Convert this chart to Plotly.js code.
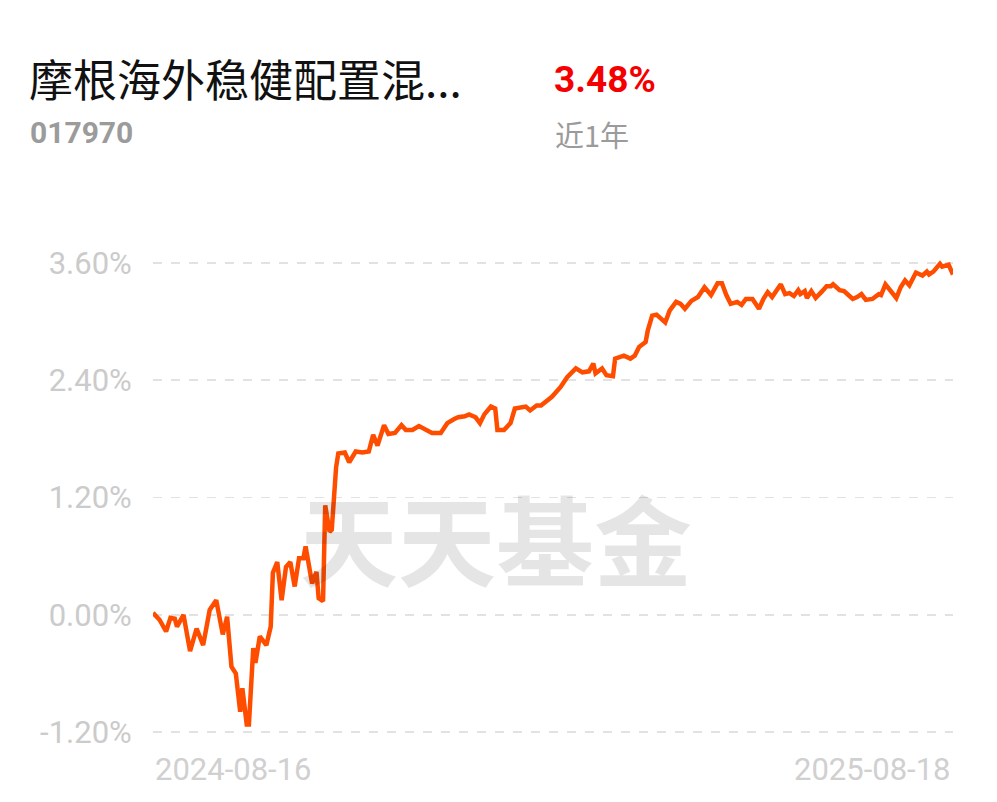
<!DOCTYPE html>
<html>
<head>
<meta charset="utf-8">
<script src="https://cdn.plot.ly/plotly-3.0.1.min.js"></script>
<style>
html,body{margin:0;padding:0;background:#fff;}
#chart{width:997px;height:802px;}
</style>
</head>
<body>
<div id="chart"></div>
<script>
// ---- data ----
var fundName = "摩根海外稳健配置混...";
var fundCode = "017970";
var periodReturn = "3.48%";
var periodLabel = "近1年";
var startDate = "2024-08-16";
var endDate = "2025-08-18";
var xTickLabels = ["2024-08-16", "2025-08-18"];
var yTickVals = [-1.2, 0, 1.2, 2.4, 3.6];
var yTickText = ["-1.20%", "0.00%", "1.20%", "2.40%", "3.60%"];

// days since start date
var dayOffsets = [0,3,6,8,10,11,14,17,20,23,26,29,32,34,36,38,40,41,43,44,46,47,49,52,54,55,57,59,61,63,65,67,69,70,73,75,76,78,79,81,82,84,85,88,90,93,96,99,101,103,106,108,111,114,116,119,122,125,128,132,135,138,140,143,145,148,150,152,155,157,158,161,164,166,168,171,173,176,178,180,183,187,190,194,197,200,202,203,206,208,211,212,216,219,221,223,226,227,229,231,233,235,237,240,242,244,247,250,253,256,259,261,263,265,268,270,272,275,278,280,282,284,288,290,292,294,296,297,299,300,302,304,307,309,311,312,315,317,319,321,323,325,327,330,333,334,336,339,341,343,345,347,350,353,355,356,358,361,362,365,367];
// cumulative return, %
var returns = [0.02,-0.05,-0.17,-0.03,-0.04,-0.12,0.00,-0.37,-0.14,-0.31,0.05,0.15,-0.20,-0.02,-0.53,-0.60,-0.99,-0.75,-1.12,-1.12,-0.34,-0.49,-0.22,-0.31,-0.12,0.43,0.54,0.15,0.49,0.54,0.29,0.58,0.58,0.70,0.32,0.44,0.17,0.14,1.12,0.85,0.87,1.51,1.65,1.66,1.56,1.67,1.66,1.67,1.84,1.73,1.94,1.85,1.86,1.94,1.89,1.89,1.93,1.89,1.86,1.86,1.96,2.00,2.02,2.03,2.05,2.02,1.96,2.05,2.13,2.11,1.89,1.89,1.96,2.11,2.12,2.13,2.09,2.14,2.14,2.18,2.23,2.33,2.43,2.52,2.48,2.49,2.57,2.47,2.52,2.45,2.44,2.62,2.65,2.62,2.65,2.74,2.79,2.91,3.06,3.07,3.03,2.99,3.11,3.20,3.18,3.13,3.21,3.25,3.35,3.27,3.39,3.39,3.27,3.18,3.20,3.17,3.23,3.23,3.13,3.23,3.30,3.25,3.38,3.28,3.29,3.26,3.32,3.28,3.31,3.24,3.31,3.24,3.31,3.36,3.36,3.38,3.32,3.31,3.27,3.23,3.25,3.28,3.22,3.23,3.28,3.27,3.38,3.30,3.24,3.35,3.42,3.37,3.50,3.47,3.51,3.48,3.51,3.59,3.56,3.58,3.48];

// ---- build dates ----
function addDays(iso, n) {
  var d = new Date(iso + "T00:00:00Z");
  d.setUTCDate(d.getUTCDate() + n);
  return d.toISOString().slice(0, 10);
}
var dates = dayOffsets.map(function (n) { return addDays(startDate, n); });

// ---- layout geometry ----
var W = 997, H = 802;
var M = {l: 153, r: 44, t: 252.5, b: 59.5};
var pw = W - M.l - M.r, ph = H - M.t - M.b;
function px(x) { return (x - M.l) / pw; }
function py(y) { return 1 - (y - M.t) / ph; }

var cjk = '"Noto Sans CJK SC", "Noto Sans", sans-serif';
var latin = 'Roboto, "Noto Sans", sans-serif';

var trace = {
  x: dates,
  y: returns,
  type: 'scatter',
  mode: 'lines',
  line: {color: '#ff4d00', width: 4.5, shape: 'linear'},
  hoverinfo: 'skip'
};

var annotations = [
  {text: fundName, x: px(27), y: py(77), xref: 'paper', yref: 'paper', xanchor: 'left', yanchor: 'middle', showarrow: false,
   font: {family: cjk, size: 44, color: '#111111'}},
  {text: '<b>' + fundCode + '</b>', x: px(28), y: py(132), xref: 'paper', yref: 'paper', xanchor: 'left', yanchor: 'middle', showarrow: false,
   font: {family: latin, size: 30, color: '#9b9b9b'}},
  {text: '<b>' + periodReturn + '</b>', x: px(552), y: py(79), xref: 'paper', yref: 'paper', xanchor: 'left', yanchor: 'middle', showarrow: false,
   font: {family: latin, size: 37, color: '#f50000'}},
  {text: periodLabel, x: px(553), y: py(133), xref: 'paper', yref: 'paper', xanchor: 'left', yanchor: 'middle', showarrow: false,
   font: {family: cjk, size: 29, color: '#9b9b9b'}},
  {text: '<b>天天基金</b>', x: px(496), y: py(536), xref: 'paper', yref: 'paper', xanchor: 'center', yanchor: 'middle', showarrow: false,
   font: {family: cjk, size: 98, color: 'rgba(0,0,0,0.1)'}},
  {text: xTickLabels[0], x: startDate, y: py(770), xref: 'x', yref: 'paper', xanchor: 'left', yanchor: 'middle', showarrow: false,
   font: {family: latin, size: 31, color: '#d0d0d0'}},
  {text: xTickLabels[1], x: endDate, y: py(770), xref: 'x', yref: 'paper', xanchor: 'right', yanchor: 'middle', showarrow: false,
   font: {family: latin, size: 31, color: '#d0d0d0'}}
];

var layout = {
  width: W, height: H,
  margin: M,
  paper_bgcolor: '#ffffff',
  plot_bgcolor: '#ffffff',
  showlegend: false,
  xaxis: {
    type: 'date',
    range: [startDate, endDate],
    showgrid: false, zeroline: false, showline: false,
    showticklabels: false, ticks: ''
  },
  yaxis: {
    range: [-1.3, 3.7],
    tickvals: yTickVals,
    ticktext: yTickText,
    showgrid: true,
    gridcolor: '#e2e2e2',
    gridwidth: 1.5,
    griddash: 'dash',
    zeroline: false, showline: false,
    ticks: 'outside', ticklen: 14, tickcolor: 'rgba(0,0,0,0)',
    tickfont: {family: latin, size: 31, color: '#cbcbcb'}
  },
  annotations: annotations
};

Plotly.newPlot('chart', [trace], layout, {staticPlot: true, displayModeBar: false});
</script>
</body>
</html>
